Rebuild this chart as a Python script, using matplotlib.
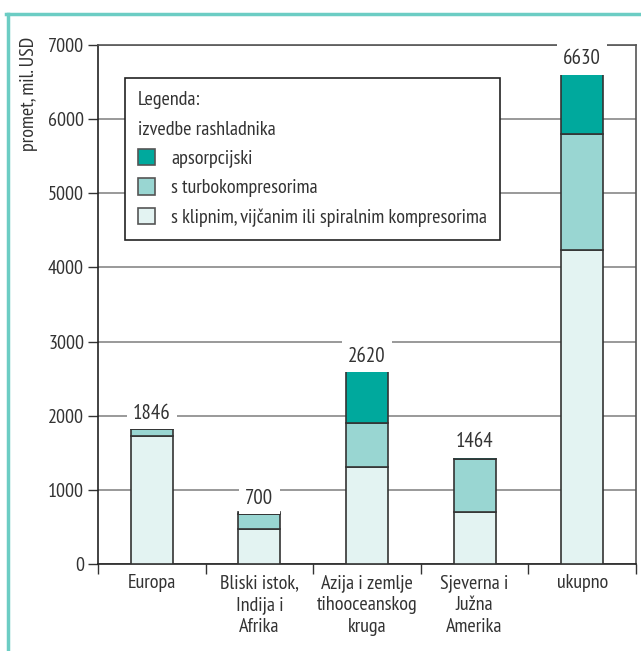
import matplotlib
matplotlib.use("Agg")
import matplotlib.pyplot as plt
from matplotlib.patches import Patch
from matplotlib.lines import Line2D
import numpy as np

categories = ["Europa", "Bliski istok,\nIndija i\nAfrika", "Azija i zemlje\ntihooceanskog\nkruga",
              "Sjeverna i\nJužna\nAmerika", "ukupno"]
klipni = [1720, 470, 1310, 700, 4230]
turbo = [100, 200, 590, 720, 1575]
apsorp = [26, 30, 720, 44, 825]
totals = [1846, 700, 2620, 1464, 6630]
series_names = ["apsorpcijski", "s turbokompresorima", "s klipnim, vijčanim ili spiralnim kompresorima"]
yticks = [0, 1000, 2000, 3000, 4000, 5000, 6000, 7000]

plt.rcParams['font.family'] = ['PT Sans Narrow', 'DejaVu Sans']
txt = '#333333'
c_abs = '#00A99D'
c_turbo = '#99D6D2'
c_light = '#E3F3F2'
edge = '#333333'
fs = 14.5

fig = plt.figure(figsize=(6.41, 6.51), dpi=100)
ax = fig.add_axes([98/641, 1-564/651, 538/641, 519/651])

x = np.arange(len(categories)) + 0.5
w = 0.39
b1 = np.array(klipni)
b2 = b1 + np.array(turbo)
ax.bar(x, klipni, w, color=c_light, edgecolor=edge, linewidth=1.2, zorder=3)
ax.bar(x, turbo, w, bottom=b1, color=c_turbo, edgecolor=edge, linewidth=1.2, zorder=3)
ax.bar(x, apsorp, w, bottom=b2, color=c_abs, edgecolor=edge, linewidth=1.2, zorder=3)

for xi, t in zip(x, totals):
    ax.annotate(str(t), (xi, t), xytext=(0, 3), textcoords='offset points', ha='center', va='bottom',
                fontsize=15, color=txt, zorder=4,
                bbox=dict(boxstyle='square,pad=0.3', fc='white', ec='none'))

ax.set_xlim(0, 5)
ax.set_ylim(0, 7000)
ax.set_yticks(yticks)
ax.set_yticklabels([str(v) for v in yticks], fontsize=fs, color=txt)
ax.yaxis.grid(True, color='#888888', linewidth=1.2, zorder=0)
ax.set_axisbelow(True)
ax.set_xticks(np.arange(6))
ax.set_xticklabels([])
ax.set_xticks(x, minor=True)
ax.set_xticklabels(categories, minor=True, fontsize=fs, color=txt, linespacing=1.3)
ax.tick_params(axis='x', which='major', length=7, width=1, color='#333333', direction='out')
ax.tick_params(axis='x', which='minor', length=0, pad=7)
ax.tick_params(axis='y', length=7, width=1, color='#333333', direction='out', pad=3)
for s in ['left', 'bottom']:
    ax.spines[s].set_color('#222222')
    ax.spines[s].set_linewidth(1.2)
for s in ['top', 'right']:
    ax.spines[s].set_color('#555555')
    ax.spines[s].set_linewidth(1.2)

fig.text(29/641, 1-37/651, "promet, mil. USD", rotation=90, ha='center', va='top', fontsize=fs, color=txt)

handles = [Patch(facecolor=c, edgecolor='#555555', linewidth=1.2) for c in [c_abs, c_turbo, c_light]]
leg = ax.legend(handles, series_names, title="Legenda:\nizvedbe rashladnika", loc='upper left',
                bbox_to_anchor=(0.05, 0.936), borderaxespad=0, fontsize=fs, title_fontsize=fs,
                frameon=True, fancybox=False, edgecolor='#222222', framealpha=1, alignment='left',
                handlelength=0.85, handleheight=0.85, handletextpad=0.8, labelspacing=0.52,
                borderpad=0.65, labelcolor=txt)
leg.get_frame().set_linewidth(1.2)
leg.get_title().set_color(txt)
leg.get_title().set_linespacing(1.8)
leg.set_zorder(5)

teal = '#6CCDC4'
fig.add_artist(Line2D([6/641, 1], [1-14/651, 1-14/651], color=teal, linewidth=2.5, transform=fig.transFigure))
fig.add_artist(Line2D([7.5/641, 7.5/641], [0, 1-14/651], color=teal, linewidth=2.5, transform=fig.transFigure))

fig.savefig("out.png", dpi=100)
